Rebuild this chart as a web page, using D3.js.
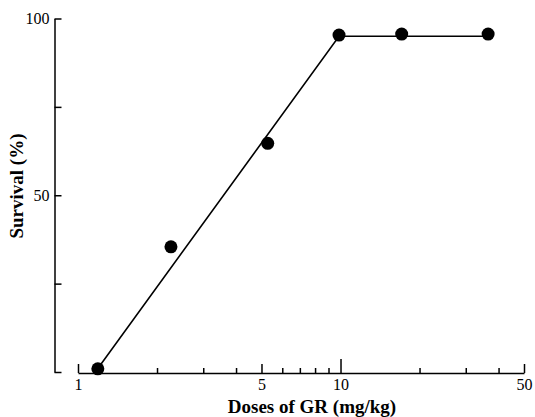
<!DOCTYPE html>
<html>
<head>
<meta charset="utf-8">
<script src="https://cdn.jsdelivr.net/npm/d3@7"></script>
<style>
  html, body { margin: 0; padding: 0; background: #fff; }
  svg text { font-family: "Liberation Serif", "Times New Roman", serif; fill: #000; }
</style>
</head>
<body>
<div id="viz"></div>
<script>
// data
const doses = [1.19, 2.26, 5.28, 9.87, 17.1, 36.5];       // mg/kg
const survival = [0.9, 35.4, 64.7, 95.3, 95.6, 95.6];      // %
const fitDoses = [1.19, 9.87, 36.5];
const fitSurvival = [1, 95, 95];

const xMajorTicks = [1, 5, 10, 50];
const xMinorTicks = [2, 3, 4, 6, 7, 8, 9, 20, 30, 40];
const yTicks = [0, 25, 50, 75, 100];
const yLabelled = [50, 100];

const outerWidth = 535, outerHeight = 417;

window.onload = function main () {

const svg = d3.select("#viz").append("svg")
    .attr("width", outerWidth)
    .attr("height", outerHeight);

// scales
const x = d3.scaleLog().domain([1, 50]).range([78, 524]),
    y = d3.scaleLinear().domain([0, 100]).range([372, 18.5]);

// x axis: detached from y axis, ticks point inward
const xAxis = d3.axisBottom(x)
    .tickValues(xMajorTicks)
    .tickFormat(d3.format("d"))
    .tickSizeInner(-9)
    .tickSizeOuter(0)
    .tickPadding(6);

const gx = svg.append("g")
    .attr("transform", "translate(0,373)")
    .call(xAxis);
gx.selectAll(".tick line")
    .attr("y2", d => d === 10 ? -14 : -9);

svg.append("g")
    .attr("transform", "translate(0,373)")
    .call(d3.axisBottom(x).tickValues(xMinorTicks).tickFormat("").tickSizeInner(-5).tickSizeOuter(0))
    .select(".domain").remove();

// y axis
const yAxis = d3.axisLeft(y)
    .tickValues(yTicks)
    .tickFormat(d => yLabelled.includes(d) ? d : "")
    .tickSizeInner(-7)
    .tickSizeOuter(0)
    .tickPadding(5);

svg.append("g")
    .attr("transform", "translate(54.5,0)")
    .call(yAxis);

svg.selectAll(".domain, .tick line")
    .attr("stroke", "#000")
    .attr("stroke-width", 1.5);
svg.selectAll(".tick text")
    .attr("font-size", 16)
    .style("font-family", "'Liberation Serif', serif");

// fitted line
const pts = fitDoses.map((d, i) => [d, fitSurvival[i]]);
svg.append("path")
    .datum(pts)
    .attr("fill", "none")
    .attr("stroke", "#000")
    .attr("stroke-width", 1.6)
    .attr("d", d3.line().x(d => x(d[0])).y(d => y(d[1])));

// points
svg.append("g")
  .selectAll("circle")
    .data(doses.map((d, i) => [d, survival[i]]))
  .enter().append("circle")
    .attr("cx", d => x(d[0]))
    .attr("cy", d => y(d[1]))
    .attr("r", 6.5)
    .attr("fill", "#000");

// axis titles
svg.append("text")
    .attr("x", 312)
    .attr("y", 413)
    .attr("text-anchor", "middle")
    .attr("font-size", 19)
    .attr("font-weight", "bold")
    .text("Doses of GR (mg/kg)");

svg.append("text")
    .attr("transform", "translate(23,186) rotate(-90)")
    .attr("text-anchor", "middle")
    .attr("font-size", 19)
    .attr("font-weight", "bold")
    .text("Survival (%)");

};
</script>
</body>
</html>
